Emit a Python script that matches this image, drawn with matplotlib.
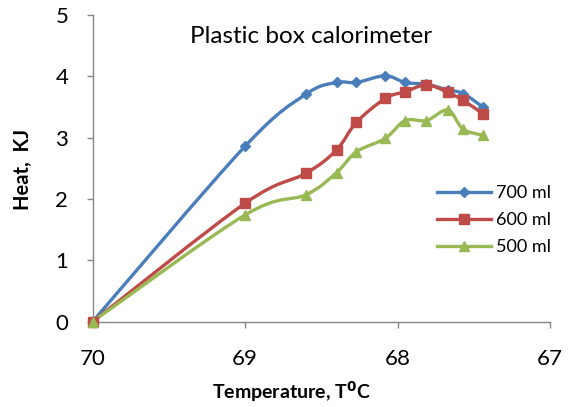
import numpy as np
import matplotlib.pyplot as plt
from matplotlib.path import Path
from matplotlib.patches import PathPatch
from matplotlib.lines import Line2D

plt.rcParams['font.family'] = ['Lato', 'DejaVu Sans']

# datos
temp = [70, 69, 68.6, 68.4, 68.27, 68.08, 67.95, 67.81, 67.67, 67.57, 67.44]
heat_700 = [0, 2.86, 3.71, 3.9, 3.9, 4.01, 3.9, 3.87, 3.78, 3.72, 3.5]
heat_600 = [0, 1.93, 2.42, 2.8, 3.25, 3.64, 3.75, 3.86, 3.74, 3.61, 3.39]
heat_500 = [0, 1.74, 2.07, 2.43, 2.77, 2.99, 3.28, 3.28, 3.45, 3.14, 3.04]
labels = ['700 ml', '600 ml', '500 ml']
colores = ['#4A7EBB', '#BE4B48', '#98B954']
marcadores = ['D', 's', '^']
tam = [5, 7, 7]


def curva_suave(x, y):
    # linea suavizada tipo Excel (Catmull-Rom -> Bezier)
    p = np.column_stack([x, y]).astype(float)
    verts = [p[0]]
    codes = [Path.MOVETO]
    n = len(p)
    for i in range(n - 1):
        p0 = p[i - 1] if i > 0 else p[i]
        p1 = p[i]
        p2 = p[i + 1]
        p3 = p[i + 2] if i + 2 < n else p[i + 1]
        c1 = p1 + (p2 - p0) / 6
        c2 = p2 - (p3 - p1) / 6
        verts += [c1, c2, p2]
        codes += [Path.CURVE4] * 3
    return Path(verts, codes)


fig = plt.figure(figsize=(5.69, 4.07), dpi=100)
ax = fig.add_axes([0.1626, 0.2096, 0.804, 0.7535])

series = [heat_700, heat_600, heat_500]
handles = []
for ys, lab, c, m, s in zip(series, labels, colores, marcadores, tam):
    ax.add_patch(PathPatch(curva_suave(temp, ys), fill=False, edgecolor=c,
                           lw=2.4, capstyle='round', joinstyle='round', zorder=2))
    ax.plot(temp, ys, linestyle='none', marker=m, color=c, markersize=s,
            zorder=3, clip_on=False)
    handles.append(Line2D([0], [0], color=c, lw=2.4, marker=m, markersize=s))

ax.set_xlim(70, 67)
ax.set_ylim(0, 5)
ax.set_xticks([70, 69, 68, 67])
ax.set_yticks([0, 1, 2, 3, 4, 5])

for lado in ['top', 'right']:
    ax.spines[lado].set_visible(False)
for lado in ['left', 'bottom']:
    ax.spines[lado].set_color('#868686')
    ax.spines[lado].set_linewidth(1)
ax.tick_params(axis='both', colors='#868686', labelcolor='black', labelsize=16, length=4.5, width=1)
ax.tick_params(axis='x', pad=15)
ax.tick_params(axis='y', pad=13)

# titulos y etiquetas de ejes
fig.text(291 / 569, 1 - 392 / 407, 'Temperature, T$^\\mathbf{0}$C', fontsize=14,
         fontweight='bold', ha='center', va='center')
fig.text(23 / 569, 1 - 169 / 407, 'Heat,  KJ', fontsize=14.5, fontweight='bold',
         rotation=90, ha='center', va='center')
fig.text(190 / 569, 1 - 43 / 407, 'Plastic box calorimeter', fontsize=17.5,
         ha='left', va='baseline')

ax.legend(handles, labels, loc='upper left', bbox_to_anchor=(437 / 569, 1 - 185 / 407),
          bbox_transform=fig.transFigure, frameon=False, fontsize=13,
          handlelength=3.0, handletextpad=0.28, labelspacing=0.62,
          borderaxespad=0, borderpad=0)

fig.savefig('out.png', dpi=100)
